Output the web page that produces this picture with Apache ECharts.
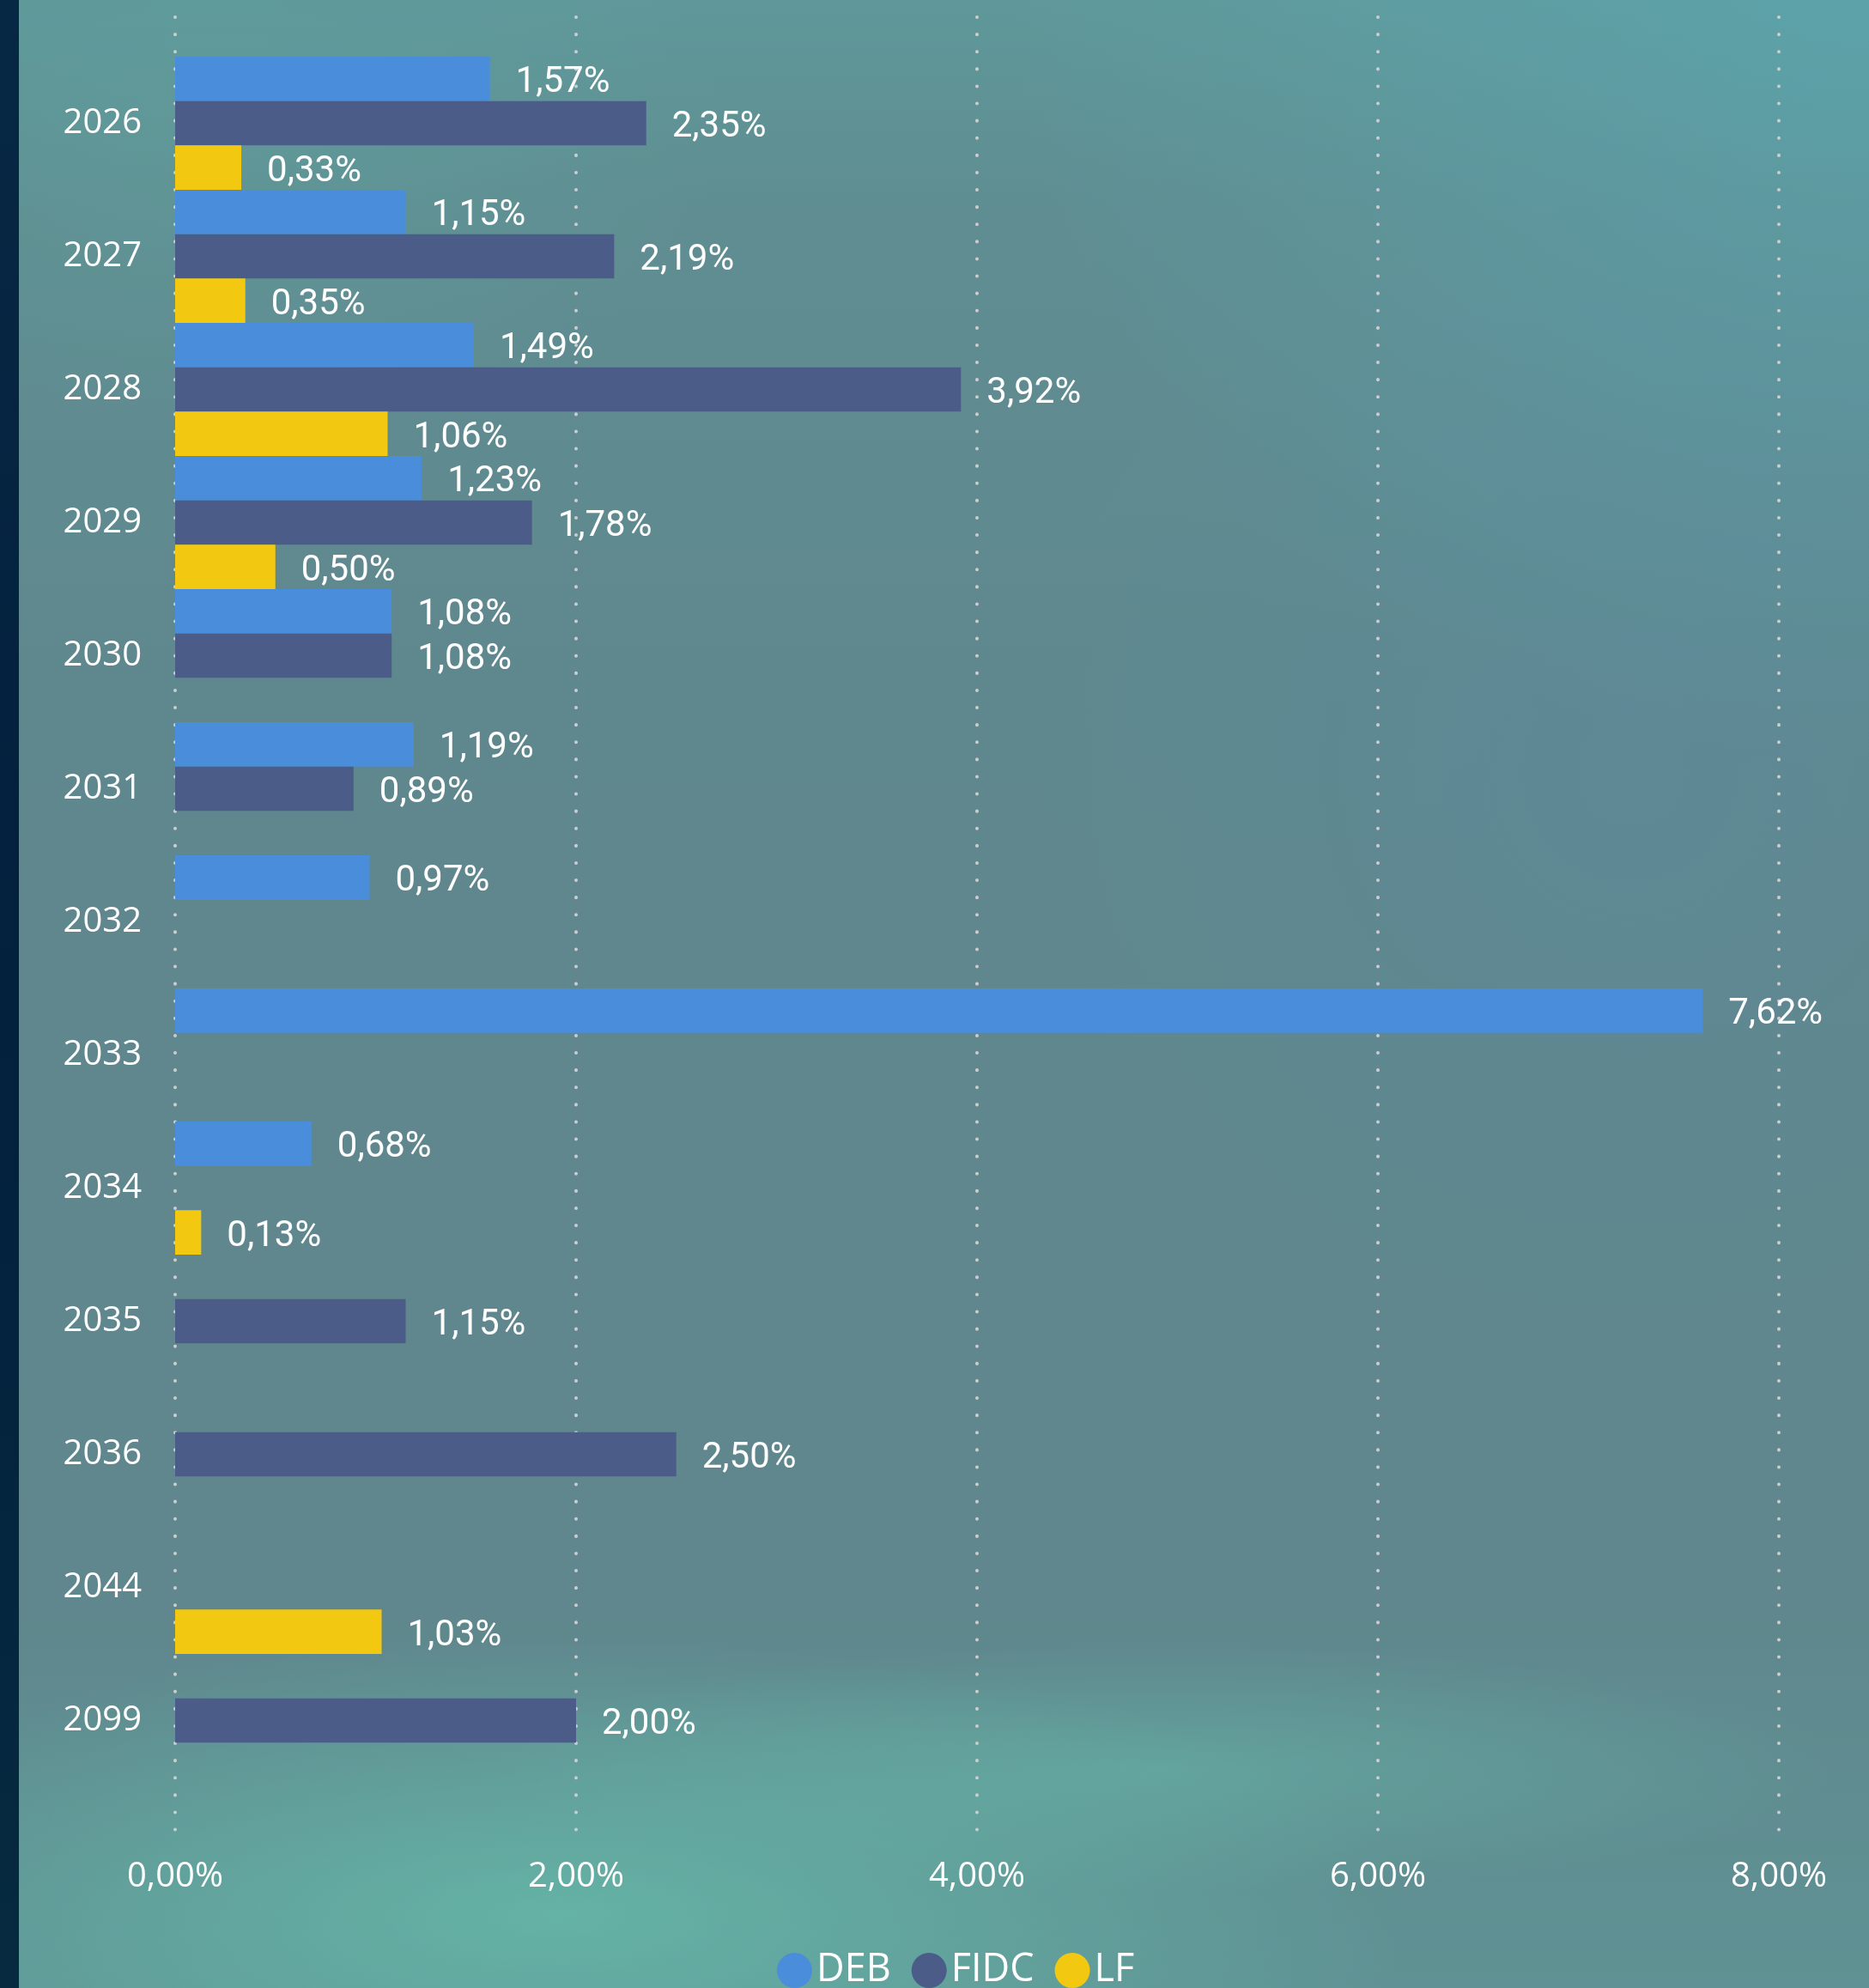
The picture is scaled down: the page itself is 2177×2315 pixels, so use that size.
<!DOCTYPE html>
<html>
<head>
<meta charset="utf-8">
<title>DEB / FIDC / LF</title>
<script src="https://cdn.jsdelivr.net/npm/echarts@6/dist/echarts.min.js"></script>
<style>
    html, body { margin: 0; padding: 0; background: #5f878d; }
    #chart { width: 2177px; height: 2315px; }
</style>
</head>
<body>
<div id="chart"></div>
<script>
var years = ['2026', '2027', '2028', '2029', '2030', '2031', '2032', '2033', '2034', '2035', '2036', '2044', '2099'];
var seriesNames = ['DEB', 'FIDC', 'LF'];
var debValues  = [1.57, 1.15, 1.49, 1.23, 1.08, 1.19, 0.97, 7.62, 0.68, null, null, null, null];
var fidcValues = [2.35, 2.19, 3.92, 1.78, 1.08, 0.89, null, null, null, 1.15, 2.50, null, 2.00];
var lfValues   = [0.33, 0.35, 1.06, 0.50, null, null, null, null, 0.13, null, null, 1.03, null];
var xTicks = [0, 2, 4, 6, 8];

var colors = ['#4a8edb', '#4b5c88', '#f2c811'];

function pct(v) {
    return Number(v).toFixed(2).replace('.', ',') + '%';
}

function makeBar(name, data) {
    return {
        name: name,
        type: 'bar',
        data: data,
        barGap: '0%',
        barCategoryGap: '0%',
        label: {
            show: true,
            position: 'right',
            distance: 30,
            offset: [0, 5],
            color: '#ffffff',
            fontFamily: 'Roboto',
            fontSize: 42,
            formatter: function (p) { return pct(p.value); }
        }
    };
}

// soft glow blobs in the background (ellipses = scaled circles)
function glow(x, y, r, sy, rgb, a) {
    return {
        type: 'circle', x: x, y: y, scaleY: sy, z: -10, silent: true,
        shape: {cx: 0, cy: 0, r: r},
        style: {
            fill: {
                type: 'radial', x: 0.5, y: 0.5, r: 0.5,
                colorStops: [
                    {offset: 0, color: 'rgba(' + rgb + ',' + a + ')'},
                    {offset: 1, color: 'rgba(' + rgb + ',0)'}
                ]
            }
        }
    };
}

var myChart = echarts.init(document.getElementById('chart'));
var option = {
    backgroundColor: {
        type: 'linear', x: 0, y: 0, x2: 0, y2: 1,
        colorStops: [
            {offset: 0, color: '#5f989a'},
            {offset: 0.1, color: '#5f8e92'},
            {offset: 0.35, color: '#5f888e'},
            {offset: 0.8, color: '#5f878d'},
            {offset: 1, color: '#5f9294'}
        ]
    },
    textStyle: {fontFamily: 'Roboto'},
    graphic: [
        glow(2177, 0, 1000, 0.9, '90,172,182', 0.55),
        glow(1900, 900, 700, 1, '92,140,170', 0.25),
        glow(250, 150, 600, 0.6, '98,165,160', 0.35),
        glow(650, 2230, 1000, 0.32, '102,190,172', 0.75),
        glow(1350, 2060, 800, 0.18, '102,185,170', 0.5),
        {
            type: 'rect', left: 0, top: 0, z: 10, silent: true,
            shape: {width: 22, height: 2315},
            style: {
                fill: {
                    type: 'linear', x: 0, y: 0, x2: 0, y2: 1,
                    colorStops: [
                        {offset: 0, color: '#072844'},
                        {offset: 0.5, color: '#03203d'},
                        {offset: 1, color: '#062a40'}
                    ]
                }
            }
        }
    ],
    legend: {
        data: seriesNames,
        left: 900,
        top: 2267,
        icon: 'circle',
        itemWidth: 41,
        itemHeight: 41,
        itemGap: 24,
        textStyle: {color: '#ffffff', fontSize: 45, fontFamily: 'Open Sans'}
    },
    grid: [
        {left: 204, right: 105, top: 66, bottom: 234},
        {left: 204, right: 105, top: 20, bottom: 170}
    ],
    xAxis: [
        {
            type: 'value',
            gridIndex: 0,
            min: xTicks[0],
            max: xTicks[xTicks.length - 1],
            interval: 2,
            axisLine: {show: false},
            axisTick: {show: false},
            splitLine: {show: false},
            axisLabel: {
                margin: 85,
                color: '#ffffff',
                fontSize: 40,
                fontFamily: 'Open Sans',
                formatter: function (v) { return pct(v); }
            }
        },
        {
            type: 'value',
            gridIndex: 1,
            min: xTicks[0],
            max: xTicks[xTicks.length - 1],
            interval: 2,
            axisLine: {show: false},
            axisTick: {show: false},
            axisLabel: {show: false},
            splitLine: {
                show: true,
                lineStyle: {color: '#cdcdcd', width: 4, type: [0.1, 20], cap: 'round'}
            }
        }
    ],
    yAxis: [
        {
            type: 'category',
            gridIndex: 0,
            data: years,
            inverse: true,
            axisLine: {show: false},
            axisTick: {show: false},
            axisLabel: {
                margin: 39,
                color: '#ffffff',
                fontSize: 40,
                fontFamily: 'Open Sans'
            }
        },
        {type: 'value', gridIndex: 1, show: false}
    ],
    color: colors,
    series: [
        makeBar('DEB', debValues),
        makeBar('FIDC', fidcValues),
        makeBar('LF', lfValues)
    ]
};
myChart.setOption(option);
</script>
</body>
</html>
